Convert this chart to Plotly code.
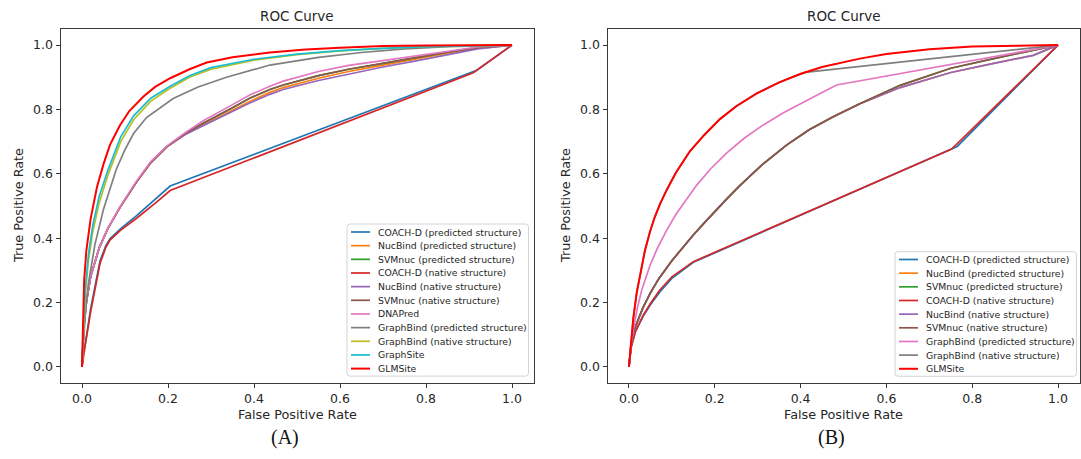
import plotly.graph_objects as go

W, H = 1081, 459

# ---------------- Panel A: ROC data ----------------
A_COACHD_PRED_FPR = [0, 0.003, 0.008, 0.02, 0.042, 0.055, 0.065, 0.09, 0.127, 0.174, 0.205, 0.918, 1]
A_COACHD_PRED_TPR = [0, 0.04, 0.075, 0.18, 0.33, 0.375, 0.398, 0.43, 0.47, 0.525, 0.562, 0.922, 1]

A_NUCBIND_PRED_FPR = [0, 0.004, 0.01, 0.02, 0.04, 0.06, 0.088, 0.127, 0.16, 0.197, 0.24, 0.282,
                      0.35, 0.39, 0.437, 0.468, 0.55, 0.62, 0.70, 0.78, 0.85, 0.92, 1]
A_NUCBIND_PRED_TPR = [0, 0.12, 0.2, 0.28, 0.37, 0.43, 0.495, 0.575, 0.635, 0.684, 0.723, 0.752,
                      0.798, 0.825, 0.853, 0.868, 0.897, 0.918, 0.938, 0.958, 0.975, 0.99, 1]

A_SVMNUC_PRED_FPR = [0, 0.004, 0.01, 0.02, 0.04, 0.06, 0.088, 0.127, 0.16, 0.197, 0.24, 0.282,
                     0.35, 0.39, 0.437, 0.468, 0.55, 0.62, 0.70, 0.78, 0.85, 0.92, 1]
A_SVMNUC_PRED_TPR = [0, 0.12, 0.2, 0.28, 0.37, 0.43, 0.495, 0.575, 0.635, 0.684, 0.725, 0.757,
                     0.805, 0.835, 0.862, 0.876, 0.905, 0.925, 0.943, 0.962, 0.978, 0.992, 1]

A_COACHD_NAT_FPR = [0, 0.003, 0.007, 0.02, 0.042, 0.055, 0.065, 0.09, 0.127, 0.174, 0.205, 0.91, 1]
A_COACHD_NAT_TPR = [0, 0.035, 0.063, 0.17, 0.322, 0.37, 0.394, 0.425, 0.462, 0.513, 0.548, 0.914, 1]

A_NUCBIND_NAT_FPR = [0, 0.004, 0.01, 0.02, 0.04, 0.06, 0.088, 0.127, 0.16, 0.197, 0.24, 0.282,
                     0.35, 0.39, 0.437, 0.468, 0.55, 0.62, 0.70, 0.78, 0.85, 0.92, 1]
A_NUCBIND_NAT_TPR = [0, 0.12, 0.2, 0.28, 0.37, 0.43, 0.495, 0.575, 0.635, 0.684, 0.722, 0.75,
                     0.795, 0.82, 0.847, 0.862, 0.89, 0.91, 0.932, 0.952, 0.97, 0.988, 1]

A_SVMNUC_NAT_FPR = [0, 0.004, 0.01, 0.02, 0.04, 0.06, 0.088, 0.127, 0.16, 0.197, 0.24, 0.282,
                    0.35, 0.39, 0.437, 0.468, 0.55, 0.62, 0.70, 0.78, 0.85, 0.92, 1]
A_SVMNUC_NAT_TPR = [0, 0.12, 0.2, 0.28, 0.37, 0.43, 0.495, 0.575, 0.635, 0.684, 0.725, 0.757,
                    0.805, 0.835, 0.862, 0.876, 0.905, 0.925, 0.943, 0.962, 0.978, 0.992, 1]

A_DNAPRED_FPR = [0, 0.004, 0.01, 0.02, 0.04, 0.06, 0.088, 0.127, 0.16, 0.197, 0.24, 0.282,
                 0.35, 0.39, 0.437, 0.468, 0.55, 0.62, 0.70, 0.78, 0.85, 0.92, 1]
A_DNAPRED_TPR = [0, 0.12, 0.2, 0.28, 0.37, 0.43, 0.497, 0.578, 0.638, 0.686, 0.728, 0.765,
                 0.815, 0.845, 0.872, 0.888, 0.918, 0.937, 0.952, 0.968, 0.982, 0.994, 1]

A_GRAPHBIND_PRED_FPR = [0, 0.003, 0.008, 0.015, 0.03, 0.05, 0.08, 0.1, 0.12, 0.15, 0.212, 0.27,
                        0.336, 0.437, 0.55, 0.65, 0.75, 0.85, 1]
A_GRAPHBIND_PRED_TPR = [0, 0.08, 0.17, 0.26, 0.38, 0.49, 0.615, 0.675, 0.725, 0.775, 0.834, 0.87,
                        0.9, 0.938, 0.962, 0.977, 0.988, 0.995, 1]

A_GRAPHBIND_NAT_FPR = [0, 0.003, 0.008, 0.015, 0.025, 0.04, 0.06, 0.09, 0.12, 0.16, 0.205, 0.25,
                       0.3, 0.4, 0.5, 0.6, 0.7, 0.8, 1]
A_GRAPHBIND_NAT_TPR = [0, 0.1, 0.23, 0.33, 0.42, 0.51, 0.595, 0.7, 0.768, 0.826, 0.866, 0.9,
                       0.925, 0.953, 0.97, 0.982, 0.99, 0.995, 1]

A_GRAPHSITE_FPR = [0, 0.003, 0.008, 0.015, 0.025, 0.04, 0.06, 0.09, 0.12, 0.16, 0.205, 0.25,
                   0.3, 0.4, 0.5, 0.6, 0.7, 0.8, 1]
A_GRAPHSITE_TPR = [0, 0.12, 0.25, 0.35, 0.44, 0.53, 0.61, 0.715, 0.78, 0.835, 0.872, 0.905,
                   0.93, 0.956, 0.972, 0.983, 0.99, 0.995, 1]

A_GLMSITE_FPR = [0, 0.002, 0.005, 0.01, 0.02, 0.035, 0.05, 0.065, 0.088, 0.11, 0.143, 0.17,
                 0.205, 0.25, 0.29, 0.35, 0.437, 0.52, 0.6, 0.7, 0.8, 1]
A_GLMSITE_TPR = [0, 0.15, 0.27, 0.36, 0.46, 0.56, 0.63, 0.69, 0.75, 0.795, 0.84, 0.87,
                 0.897, 0.925, 0.946, 0.962, 0.977, 0.986, 0.992, 0.997, 0.999, 1]

# ---------------- Panel B: ROC data ----------------
B_COACHD_PRED_FPR = [0, 0.005, 0.015, 0.033, 0.05, 0.072, 0.1, 0.15, 0.765, 1]
B_COACHD_PRED_TPR = [0, 0.06, 0.11, 0.157, 0.193, 0.233, 0.275, 0.325, 0.685, 1]

B_NUCBIND_PRED_FPR = [0, 0.005, 0.015, 0.033, 0.05, 0.07, 0.1, 0.127, 0.15, 0.175, 0.2, 0.228,
                      0.259, 0.31, 0.368, 0.42, 0.476, 0.538, 0.632, 0.75, 0.85, 0.942, 1]
B_NUCBIND_PRED_TPR = [0, 0.07, 0.125, 0.185, 0.23, 0.275, 0.33, 0.374, 0.41, 0.447, 0.483, 0.522,
                      0.564, 0.628, 0.69, 0.737, 0.777, 0.818, 0.868, 0.915, 0.943, 0.968, 1]

B_SVMNUC_PRED_FPR = [0, 0.005, 0.015, 0.033, 0.05, 0.07, 0.1, 0.127, 0.15, 0.175, 0.2, 0.228,
                     0.259, 0.31, 0.368, 0.42, 0.476, 0.538, 0.632, 0.75, 0.85, 0.94, 1]
B_SVMNUC_PRED_TPR = [0, 0.07, 0.125, 0.185, 0.23, 0.275, 0.33, 0.374, 0.41, 0.447, 0.483, 0.522,
                     0.564, 0.628, 0.69, 0.737, 0.777, 0.818, 0.875, 0.928, 0.958, 0.982, 1]

B_COACHD_NAT_FPR = [0, 0.005, 0.015, 0.033, 0.05, 0.072, 0.1, 0.15, 0.752, 1]
B_COACHD_NAT_TPR = [0, 0.06, 0.11, 0.16, 0.197, 0.239, 0.28, 0.327, 0.677, 1]

B_NUCBIND_NAT_FPR = [0, 0.005, 0.015, 0.033, 0.05, 0.07, 0.1, 0.127, 0.15, 0.175, 0.2, 0.228,
                     0.259, 0.31, 0.368, 0.42, 0.476, 0.538, 0.632, 0.75, 0.85, 0.942, 1]
B_NUCBIND_NAT_TPR = [0, 0.07, 0.125, 0.185, 0.23, 0.275, 0.33, 0.374, 0.41, 0.447, 0.483, 0.522,
                     0.564, 0.628, 0.69, 0.737, 0.777, 0.818, 0.868, 0.915, 0.943, 0.968, 1]

B_SVMNUC_NAT_FPR = [0, 0.005, 0.015, 0.033, 0.05, 0.07, 0.1, 0.127, 0.15, 0.175, 0.2, 0.228,
                    0.259, 0.31, 0.368, 0.42, 0.476, 0.538, 0.632, 0.75, 0.85, 0.94, 1]
B_SVMNUC_NAT_TPR = [0, 0.07, 0.125, 0.185, 0.23, 0.275, 0.33, 0.374, 0.41, 0.447, 0.483, 0.522,
                    0.564, 0.628, 0.69, 0.737, 0.777, 0.818, 0.875, 0.928, 0.958, 0.982, 1]

B_GRAPHBIND_PRED_FPR = [0, 0.005, 0.012, 0.02, 0.03, 0.049, 0.065, 0.088, 0.11, 0.134, 0.158,
                        0.19, 0.228, 0.27, 0.313, 0.36, 0.41, 0.45, 0.484, 1]
B_GRAPHBIND_PRED_TPR = [0, 0.07, 0.13, 0.185, 0.24, 0.315, 0.365, 0.425, 0.475, 0.522, 0.565,
                        0.615, 0.665, 0.712, 0.752, 0.79, 0.826, 0.853, 0.876, 1]

B_GRAPHBIND_NAT_FPR = [0, 0.004, 0.01, 0.018, 0.026, 0.037, 0.049, 0.06, 0.072, 0.088, 0.11,
                       0.142, 0.175, 0.212, 0.25, 0.298, 0.35, 0.399, 0.41, 1]
B_GRAPHBIND_NAT_TPR = [0, 0.07, 0.15, 0.23, 0.29, 0.36, 0.42, 0.465, 0.505, 0.55, 0.605,
                       0.67, 0.72, 0.77, 0.81, 0.85, 0.884, 0.91, 0.915, 1]

B_GLMSITE_FPR = [0, 0.004, 0.01, 0.018, 0.026, 0.037, 0.049, 0.06, 0.072, 0.088, 0.11, 0.142,
                 0.175, 0.212, 0.25, 0.298, 0.35, 0.399, 0.45, 0.5, 0.538, 0.6, 0.7, 0.8, 0.9, 1]
B_GLMSITE_TPR = [0, 0.07, 0.15, 0.23, 0.29, 0.36, 0.42, 0.465, 0.505, 0.55, 0.605, 0.67,
                 0.72, 0.77, 0.81, 0.85, 0.884, 0.91, 0.932, 0.948, 0.958, 0.972, 0.987, 0.996,
                 0.999, 1]

A_NAMES = ["COACH-D (predicted structure)", "NucBind (predicted structure)",
           "SVMnuc (predicted structure)", "COACH-D (native structure)",
           "NucBind (native structure)", "SVMnuc (native structure)", "DNAPred",
           "GraphBind (predicted structure)", "GraphBind (native structure)",
           "GraphSite", "GLMSite"]
B_NAMES = ["COACH-D (predicted structure)", "NucBind (predicted structure)",
           "SVMnuc (predicted structure)", "COACH-D (native structure)",
           "NucBind (native structure)", "SVMnuc (native structure)",
           "GraphBind (predicted structure)", "GraphBind (native structure)", "GLMSite"]

A_COLORS = ["#1f77b4", "#ff7f0e", "#2ca02c", "#d62728", "#9467bd", "#8c564b",
            "#e377c2", "#7f7f7f", "#bcbd22", "#17becf", "#ff0000"]
B_COLORS = ["#1f77b4", "#ff7f0e", "#2ca02c", "#d62728", "#9467bd", "#8c564b",
            "#e377c2", "#7f7f7f", "#ff0000"]

A_SERIES = [(A_COACHD_PRED_FPR, A_COACHD_PRED_TPR), (A_NUCBIND_PRED_FPR, A_NUCBIND_PRED_TPR),
            (A_SVMNUC_PRED_FPR, A_SVMNUC_PRED_TPR), (A_COACHD_NAT_FPR, A_COACHD_NAT_TPR),
            (A_NUCBIND_NAT_FPR, A_NUCBIND_NAT_TPR), (A_SVMNUC_NAT_FPR, A_SVMNUC_NAT_TPR),
            (A_DNAPRED_FPR, A_DNAPRED_TPR), (A_GRAPHBIND_PRED_FPR, A_GRAPHBIND_PRED_TPR),
            (A_GRAPHBIND_NAT_FPR, A_GRAPHBIND_NAT_TPR), (A_GRAPHSITE_FPR, A_GRAPHSITE_TPR),
            (A_GLMSITE_FPR, A_GLMSITE_TPR)]
B_SERIES = [(B_COACHD_PRED_FPR, B_COACHD_PRED_TPR), (B_NUCBIND_PRED_FPR, B_NUCBIND_PRED_TPR),
            (B_SVMNUC_PRED_FPR, B_SVMNUC_PRED_TPR), (B_COACHD_NAT_FPR, B_COACHD_NAT_TPR),
            (B_NUCBIND_NAT_FPR, B_NUCBIND_NAT_TPR), (B_SVMNUC_NAT_FPR, B_SVMNUC_NAT_TPR),
            (B_GRAPHBIND_PRED_FPR, B_GRAPHBIND_PRED_TPR), (B_GRAPHBIND_NAT_FPR, B_GRAPHBIND_NAT_TPR),
            (B_GLMSITE_FPR, B_GLMSITE_TPR)]

TICKS = [0.0, 0.2, 0.4, 0.6, 0.8, 1.0]
TICK_LABELS = ["0.0", "0.2", "0.4", "0.6", "0.8", "1.0"]
PANEL_LABELS = ["(A)", "(B)"]

FRAME = "#3a3a3a"
TEXT = "#262626"
SANS = "DejaVu Sans"


def fx(p):
    return p / W


def fy(p):
    return 1 - p / H


def rounded_box(l, r, t, b, rad=3):
    """SVG path (paper coordinates) of a box with rounded corners, given in pixels."""
    pts = [
        f"M{fx(l + rad)},{fy(t)}", f"L{fx(r - rad)},{fy(t)}",
        f"Q{fx(r)},{fy(t)} {fx(r)},{fy(t + rad)}", f"L{fx(r)},{fy(b - rad)}",
        f"Q{fx(r)},{fy(b)} {fx(r - rad)},{fy(b)}", f"L{fx(l + rad)},{fy(b)}",
        f"Q{fx(l)},{fy(b)} {fx(l)},{fy(b - rad)}", f"L{fx(l)},{fy(t + rad)}",
        f"Q{fx(l)},{fy(t)} {fx(l + rad)},{fy(t)}", "Z",
    ]
    return " ".join(pts)


# plot-area boxes in pixels: left, right, top, bottom
BOXES = [(60.5, 533.5, 29, 383), (607.5, 1079.5, 29, 383)]

fig = go.Figure()
shapes, annotations = [], []

panels = [(A_NAMES, A_COLORS, A_SERIES), (B_NAMES, B_COLORS, B_SERIES)]
for k, (names, colors, series) in enumerate(panels):
    xa = "x" if k == 0 else "x2"
    ya = "y" if k == 0 else "y2"
    for name, color, (fpr, tpr) in zip(names, colors, series):
        fig.add_trace(go.Scatter(
            x=fpr, y=tpr, mode="lines", name=name, xaxis=xa, yaxis=ya,
            line=dict(color=color, width=2.0 if name == "GLMSite" else 1.7),
            showlegend=False, hoverinfo="skip"))

axis_common = dict(
    range=[-0.05, 1.05], tickmode="array", tickvals=TICKS, ticktext=TICK_LABELS,
    ticks="outside", ticklen=4, tickwidth=1, tickcolor=FRAME,
    showline=True, linecolor=FRAME, linewidth=1, mirror=True,
    showgrid=False, zeroline=False, fixedrange=True,
    tickfont=dict(family=SANS, size=12.5, color=TEXT),
)

layout_axes = {}
for k, (l, r, t, b) in enumerate(BOXES):
    sx = "" if k == 0 else "2"
    layout_axes["xaxis" + sx] = dict(axis_common, domain=[fx(l), fx(r)],
                                     anchor="y" + sx)
    layout_axes["yaxis" + sx] = dict(axis_common, domain=[fy(b), fy(t)],
                                     anchor="x" + sx)
    cx = (l + r) / 2
    cy = (t + b) / 2
    annotations.append(dict(text="ROC Curve", x=fx(cx), y=fy(16), xref="paper", yref="paper",
                            showarrow=False, xanchor="center", yanchor="middle",
                            font=dict(family=SANS, size=13.5, color=TEXT)))
    annotations.append(dict(text="False Positive Rate", x=fx(cx), y=fy(414), xref="paper",
                            yref="paper", showarrow=False, xanchor="center", yanchor="middle",
                            font=dict(family=SANS, size=12.8, color=TEXT)))
    annotations.append(dict(text="True Positive Rate", x=fx(l - 42.5), y=fy(cy), xref="paper",
                            yref="paper", showarrow=False, xanchor="center", yanchor="middle",
                            textangle=-90, font=dict(family=SANS, size=12.8, color=TEXT)))
    annotations.append(dict(text=PANEL_LABELS[k], x=fx(cx - 12), y=fy(437), xref="paper",
                            yref="paper", showarrow=False, xanchor="center", yanchor="middle",
                            font=dict(family="Liberation Serif", size=20, color="#111")))

# legend boxes (left, right, top, first-row y)
LEGENDS = [(347, 528.5, 224, 232), (895, 1076.5, 251.7, 259.5)]
ROW = 13.66
for (names, colors, series), (l, r, t, y0) in zip(panels, LEGENDS):
    n = len(names)
    bottom = y0 + (n - 1) * ROW + 7.5
    shapes.append(dict(type="path", xref="paper", yref="paper", path=rounded_box(l, r, t, bottom),
                       fillcolor="rgba(255,255,255,0.85)",
                       line=dict(color="#d4d4d4", width=1), layer="above"))
    for i, (name, color) in enumerate(zip(names, colors)):
        yy = y0 + i * ROW
        shapes.append(dict(type="line", xref="paper", yref="paper", x0=fx(l + 4),
                           x1=fx(l + 23), y0=fy(yy), y1=fy(yy), layer="above",
                           line=dict(color=color, width=2.0 if name == "GLMSite" else 1.7)))
        annotations.append(dict(text=name, x=fx(l + 28.5), y=fy(yy), xref="paper",
                                yref="paper", showarrow=False, xanchor="left",
                                yanchor="middle",
                                font=dict(family=SANS, size=9.3, color=TEXT)))

fig.update_layout(
    width=W, height=H, margin=dict(l=0, r=0, t=0, b=0),
    paper_bgcolor="white", plot_bgcolor="white", template="none",
    showlegend=False, shapes=shapes, annotations=annotations, **layout_axes,
)

fig.write_html("out.html", config={"displayModeBar": False})
